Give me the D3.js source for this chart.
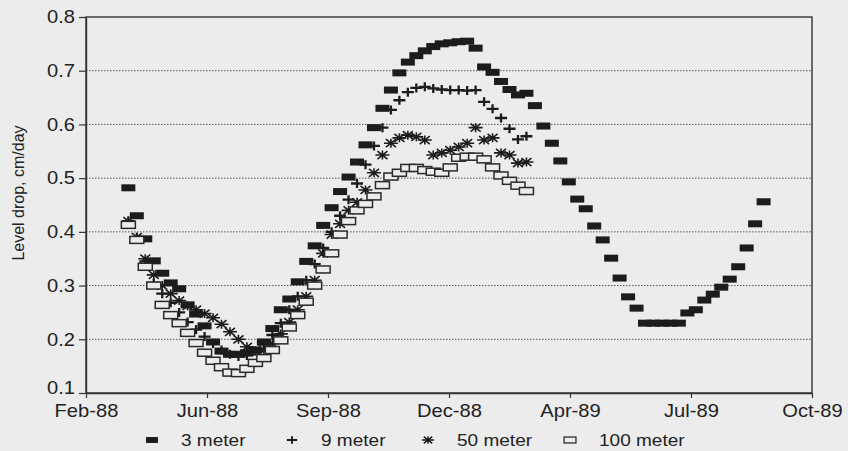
<!DOCTYPE html>
<html>
<head>
<meta charset="utf-8">
<script src="https://cdn.jsdelivr.net/npm/d3@7"></script>
<style>
  body { margin: 0; background: #ececec; }
  svg { display: block; font-family: "Liberation Sans", Arial, Helvetica, sans-serif; }
</style>
</head>
<body>
<svg id="chart" width="848" height="451"></svg>
<script>
// ---------------- DATA ----------------
const sampleDates = [
  "1988-04-02","1988-04-09","1988-04-16","1988-04-23","1988-04-30","1988-05-07","1988-05-14","1988-05-21","1988-05-28","1988-06-04",
  "1988-06-11","1988-06-18","1988-06-25","1988-07-02","1988-07-09","1988-07-16","1988-07-23","1988-07-30","1988-08-06","1988-08-13",
  "1988-08-20","1988-08-27","1988-09-03","1988-09-10","1988-09-17","1988-09-24","1988-10-01","1988-10-08","1988-10-15","1988-10-22",
  "1988-10-29","1988-11-05","1988-11-12","1988-11-19","1988-11-26","1988-12-03","1988-12-10","1988-12-17","1988-12-24","1988-12-31",
  "1989-01-07","1989-01-14","1989-01-21","1989-01-28","1989-02-04","1989-02-11","1989-02-18","1989-02-25","1989-03-04","1989-03-11",
  "1989-03-18","1989-03-25","1989-04-01","1989-04-08","1989-04-15","1989-04-22","1989-04-29","1989-05-06","1989-05-13","1989-05-20",
  "1989-05-27","1989-06-03","1989-06-10","1989-06-17","1989-06-24","1989-07-01","1989-07-08","1989-07-15","1989-07-22","1989-07-29",
  "1989-08-05","1989-08-12","1989-08-19","1989-08-26","1989-09-02","1989-09-09"
];

const values3m = [
  0.482,0.430,0.387,0.346,0.323,0.305,0.294,0.264,0.247,0.225,
  0.195,0.178,0.172,0.172,0.175,0.180,0.195,0.220,0.255,0.275,
  0.307,0.345,0.374,0.412,0.445,0.475,0.502,0.530,0.562,0.594,
  0.630,0.664,0.696,0.716,0.728,0.737,0.745,0.750,0.752,0.754,
  0.755,0.742,0.707,0.697,0.680,0.665,0.655,0.658,0.635,0.597,
  0.565,0.532,0.493,0.461,0.443,0.411,0.385,0.351,0.314,0.279,
  0.258,0.230,0.230,0.230,0.230,0.230,0.249,0.255,0.273,0.284,
  0.297,0.312,0.335,0.370,0.415,0.456
];

const values9m = [
  0.420,0.390,0.345,0.305,0.285,0.268,0.250,0.232,0.218,0.205,
  0.192,0.180,0.172,0.168,0.170,0.178,0.190,0.208,0.230,0.255,
  0.280,0.310,0.340,0.370,0.400,0.430,0.460,0.490,0.525,0.560,
  0.594,0.627,0.645,0.660,0.668,0.670,0.667,0.665,0.664,0.664,
  0.663,0.664,0.642,0.629,0.612,0.592,0.572,0.578
];

const values50m = [
  0.420,0.390,0.350,0.320,0.300,0.285,0.272,0.262,0.255,0.248,
  0.240,0.228,0.214,0.200,0.186,0.178,0.180,0.192,0.210,0.232,
  0.255,0.280,0.310,0.360,0.395,0.415,0.440,0.455,0.478,0.510,
  0.543,0.565,0.575,0.580,0.577,0.571,0.543,0.547,0.552,0.558,
  0.565,0.594,0.571,0.575,0.547,0.543,0.528,0.530
];

const values100m = [
  0.413,0.385,0.335,0.300,0.264,0.245,0.230,0.212,0.193,0.175,
  0.160,0.148,0.138,0.137,0.145,0.156,0.165,0.180,0.198,0.222,
  0.245,0.270,0.300,0.330,0.360,0.395,0.420,0.440,0.452,0.466,
  0.487,0.503,0.510,0.519,0.519,0.515,0.512,0.510,0.520,0.538,
  0.540,0.540,0.535,0.520,0.505,0.495,0.486,0.476
];

const seriesNames = ["3 meter", "9 meter", "50 meter", "100 meter"];
const xDomainDates = ["1988-02-27", "1989-10-19"];
const xTickDates = ["1988-02-27","1988-06-06","1988-09-14","1988-12-23","1989-04-02","1989-07-11","1989-10-19"];
const yDomain = [0.1, 0.8];
const yTickValues = [0.1, 0.2, 0.3, 0.4, 0.5, 0.6, 0.7, 0.8];
const yGridValues = [0.2, 0.3, 0.4, 0.5, 0.6, 0.7];
const yTitle = "Level drop, cm/day";

// ---------------- CHART ----------------
const W = 848, H = 451;
const margin = { left: 86, top: 17, right: 36, bottom: 58 };
const stretch = 1.12; // scanned text is slightly wider than tall
const parse = d3.timeParse("%Y-%m-%d");
const svg = d3.select("#chart");

svg.append("rect").attr("width", W).attr("height", H).attr("fill", "#ececec");

const x = d3.scaleTime()
  .domain(xDomainDates.map(parse))
  .range([margin.left, W - margin.right]);
const y = d3.scaleLinear()
  .domain(yDomain)
  .range([H - margin.bottom, margin.top]);

const ink = "#222";

// gridlines
svg.append("g").selectAll("line").data(yGridValues).join("line")
  .attr("x1", margin.left).attr("x2", W - margin.right)
  .attr("y1", d => y(d)).attr("y2", d => y(d))
  .attr("stroke", "#555").attr("stroke-width", 1)
  .attr("stroke-dasharray", "1.5,1.5");

// frame
svg.append("rect")
  .attr("x", margin.left).attr("y", margin.top)
  .attr("width", W - margin.left - margin.right)
  .attr("height", H - margin.top - margin.bottom)
  .attr("fill", "none").attr("stroke", "#333").attr("stroke-width", 1.4);

// axes
const yAxis = svg.append("g")
  .attr("transform", `translate(${margin.left},0)`)
  .call(d3.axisLeft(y).tickValues(yTickValues).tickFormat(d3.format(".1f"))
    .tickSize(7).tickSizeOuter(0).tickPadding(4));
const xAxis = svg.append("g")
  .attr("transform", `translate(0,${H - margin.bottom})`)
  .call(d3.axisBottom(x).tickValues(xTickDates.map(parse)).tickFormat(d3.timeFormat("%b-%y"))
    .tickSize(5).tickSizeOuter(0).tickPadding(3));

[yAxis, xAxis].forEach(g => {
  g.select(".domain").attr("stroke", "#333").attr("stroke-width", 1.4);
  g.selectAll(".tick line").attr("stroke", "#333").attr("stroke-width", 1.2);
  g.selectAll(".tick text").attr("fill", ink).attr("font-size", 18)
    .attr("font-family", "'Liberation Sans', Arial, sans-serif");
});
xAxis.selectAll(".tick text").attr("y", 0).attr("dy", 0)
  .attr("transform", `translate(0,24) scale(${stretch},1)`);
yAxis.selectAll(".tick text")
  .attr("x", 0)
  .attr("transform", d => `translate(-11,${d === 0.1 ? -5 : 0}) scale(${stretch},1)`);

// y title
svg.append("text")
  .attr("transform", `translate(24,193) rotate(-90)`)
  .attr("text-anchor", "middle")
  .attr("font-size", 16).attr("fill", ink)
  .text(yTitle);

// marker drawers
const markers = [
  g => g.append("rect").attr("x", -7).attr("y", -3.5).attr("width", 14).attr("height", 7).attr("fill", "#1c1c1c"),
  g => g.append("path").attr("d", "M-6,0H6M0,-4.5V4.5").attr("stroke", "#1c1c1c").attr("stroke-width", 2.3).attr("fill", "none"),
  g => g.append("path").attr("d", "M-7,0H7M-5,-4L5,4M-5,4L5,-4M0,-4.5V4.5").attr("stroke", "#1c1c1c").attr("stroke-width", 1.6).attr("fill", "none"),
  g => g.append("rect").attr("x", -7).attr("y", -3.5).attr("width", 14).attr("height", 7).attr("fill", "#ececec").attr("stroke", "#2a2a2a").attr("stroke-width", 1.5)
];

const allSeries = [values3m, values9m, values50m, values100m];
allSeries.forEach((vals, si) => {
  const pts = vals.map((v, i) => ({ date: parse(sampleDates[i]), value: v }));
  svg.append("g").attr("class", "series-" + si)
    .selectAll("g").data(pts).join("g")
    .attr("transform", d => `translate(${x(d.date)},${y(d.value)})`)
    .each(function () { markers[si](d3.select(this)); });
});

// legend
const legendY = 440;
const legendMarkerX = [152, 292, 428, 570];
const legendTextGap = 29;
seriesNames.forEach((name, i) => {
  const g = svg.append("g").attr("transform", `translate(${legendMarkerX[i]},${legendY})`);
  const m = g.append("g").attr("transform", "scale(0.85)");
  markers[i](m);
  g.append("text")
    .attr("transform", `translate(${legendTextGap},0) scale(${stretch},1)`)
    .attr("dy", "0.36em")
    .attr("font-size", 17).attr("fill", ink).text(name);
});
</script>
</body>
</html>
